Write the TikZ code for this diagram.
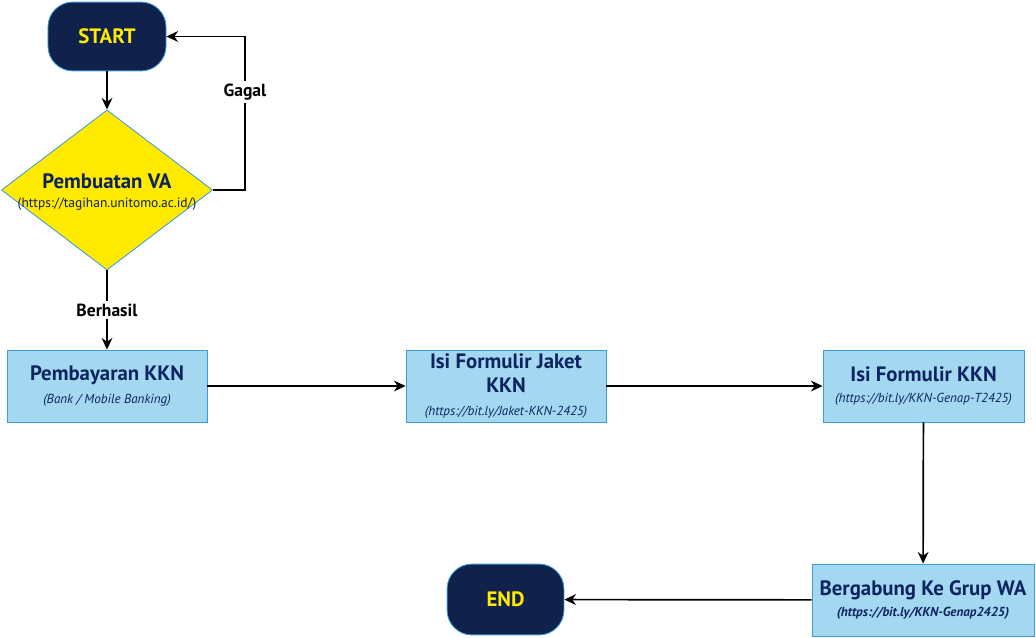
\documentclass[tikz,border=0pt]{standalone}
\usepackage{fontspec}
\setmainfont{PT Sans}
\usetikzlibrary{arrows.meta,shapes.geometric}
\definecolor{navy}{HTML}{10224B}
\definecolor{boxblue}{HTML}{A3D8F0}
\definecolor{edgeblue}{HTML}{3D9BD7}
\definecolor{textnavy}{HTML}{0D2461}
\definecolor{vayellow}{HTML}{FFEA00}
\newcommand{\subtxt}[1]{{\normalfont\itshape\fontsize{9.3}{11}\selectfont #1}}

\begin{document}
\begin{tikzpicture}[x=0.025cm,y=-0.025cm,>={Stealth[length=2.9mm,width=2.7mm]},line width=1.2pt,
  terminal/.style={rectangle,rounded corners=0.62cm,draw=edgeblue,line width=0.6pt,fill=navy,text=vayellow,
    minimum width=2.95cm,minimum height=1.72cm,font=\bfseries\fontsize{14.8}{17}\selectfont},
  process/.style={rectangle,draw=edgeblue,line width=0.6pt,fill=boxblue,text=textnavy,align=center,
    minimum width=5cm,minimum height=1.8cm,inner sep=1pt,font=\bfseries\fontsize{14.8}{17}\selectfont},
  flowlabel/.style={fill=white,inner sep=2pt,font=\bfseries\fontsize{12.5}{14}\selectfont}]
\useasboundingbox (0,0) rectangle (1036,637);
\node[terminal] (start) at (107,36.5) {START};
\node[diamond,draw=edgeblue,line width=0.6pt,fill=vayellow,inner sep=0pt,
  minimum width=5.275cm,minimum height=4cm] (va) at (107,190) {};
\node[align=center,text=textnavy,font=\bfseries\fontsize{14.8}{17}\selectfont] (vatext) at (107,192)
  {Pembuatan VA\\[-3pt]{\normalfont\fontsize{9.6}{11}\selectfont (https://tagihan.unitomo.ac.id/)}};
\node[process] (pay) at (107,386) {Pembayaran KKN\\[-1pt]\subtxt{(Bank / Mobile Banking)}};
\node[process] (jaket) at (506,386) {Isi Formulir Jaket\\KKN\\[-1pt]\subtxt{(https://bit.ly/Jaket-KKN-2425)}};
\node[process,minimum width=5.025cm] (form) at (923.5,386) {Isi Formulir KKN\\[-2pt]\subtxt{(https://bit.ly/KKN-Genap-T2425)}};
\node[process,minimum width=5.55cm] (join) at (923,600) {Bergabung Ke Grup WA\\[-2pt]\subtxt{\bfseries(https://bit.ly/KKN-Genap2425)}};
\node[terminal,minimum width=2.92cm,minimum height=1.77cm] (end) at (505.5,599.5) {END};
\coordinate (gagalturn) at (245,190);
\draw[->] (start) -- (va.north);
\draw[->] (va.east) -- (gagalturn) |- node[flowlabel,pos=0.32]{Gagal} (start.east);
\draw[->] (va.south) -- node[flowlabel]{Berhasil} (pay.north);
\draw[->] (pay) -- (jaket);
\draw[->] (jaket) -- (form);
\draw[->] (form) -- (join);
\draw[->] (join) -- (end);
\end{tikzpicture}
\end{document}
